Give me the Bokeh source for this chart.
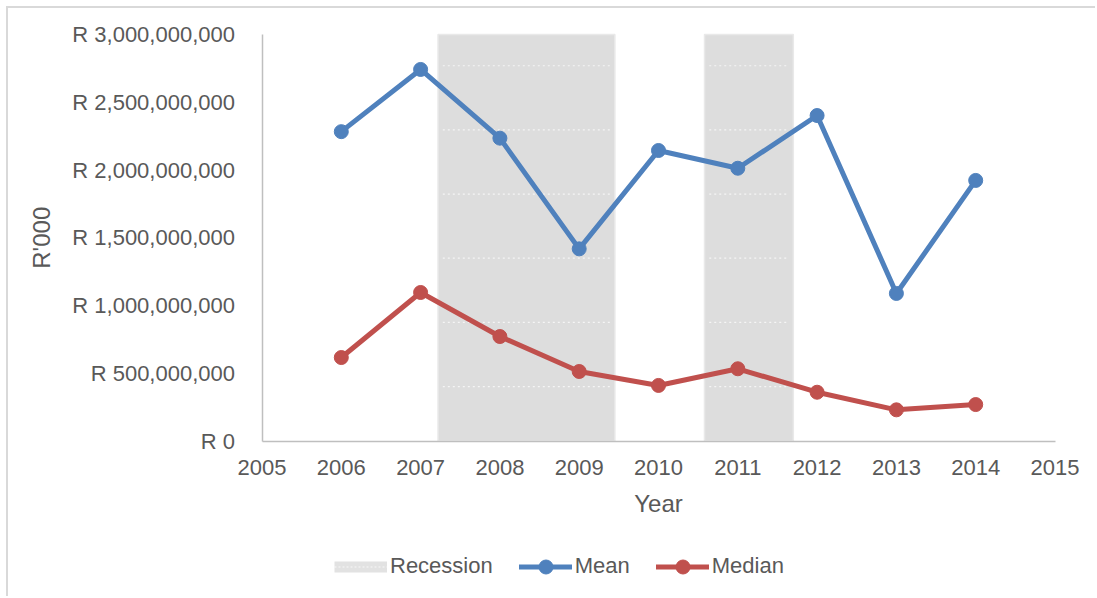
import math
from bokeh.plotting import figure
from bokeh.models import Range1d, Legend, LegendItem, Label
from bokeh.embed import file_html
from bokeh.resources import INLINE

# Yearly values (R'000)
years = [2006, 2007, 2008, 2009, 2010, 2011, 2012, 2013, 2014]
mean_vals = [2.283e9, 2.742e9, 2.235e9, 1.418e9, 2.144e9, 2.013e9, 2.402e9, 1.089e9, 1.923e9]
median_vals = [0.616e9, 1.096e9, 0.771e9, 0.513e9, 0.410e9, 0.533e9, 0.360e9, 0.230e9, 0.269e9]

# Recession periods (fractional years)
recession_start = [2007.22, 2010.58]
recession_end = [2009.45, 2011.70]

# Axis ticks
x_ticks = list(range(2005, 2016))
y_ticks = [0, 500_000_000, 1_000_000_000, 1_500_000_000, 2_000_000_000, 2_500_000_000, 3_000_000_000]
y_tick_labels = ["R 0", "R 500,000,000", "R 1,000,000,000", "R 1,500,000,000",
                 "R 2,000,000,000", "R 2,500,000,000", "R 3,000,000,000"]
X_MIN, X_MAX = x_ticks[0], x_ticks[-1]
Y_MAX = y_ticks[-1]

FONT = "Liberation Sans"
TEXT = "#595959"
BLUE = "#4f81bd"
RED = "#c0504d"
BAND = "#dddddd"
AXIS = "#bfbfbf"

# The frame fills the whole canvas; the axes sit inside it at fixed positions,
# leaving room for tick labels on the left and the titles/legend underneath.
CANVAS_W, CANVAS_H = 1089, 590
TOP_PAD = 26          # canvas top -> top of value axis
LEFT_PAD = 253.5      # canvas left -> value axis line
VALUE_W, VALUE_H = 793, 406.5
RIGHT_PAD = CANVAS_W - LEFT_PAD - VALUE_W
BOTTOM_PAD = CANVAS_H - TOP_PAD - VALUE_H

x_per_px = (X_MAX - X_MIN) / VALUE_W
y_per_px = Y_MAX / VALUE_H
x_range = Range1d(X_MIN - LEFT_PAD * x_per_px, X_MAX + RIGHT_PAD * x_per_px)
y_range = Range1d(-BOTTOM_PAD * y_per_px, Y_MAX + TOP_PAD * y_per_px)

p = figure(width=CANVAS_W, height=CANVAS_H, x_range=x_range, y_range=y_range,
           output_backend="svg", toolbar_location=None,
           min_border_left=0, min_border_right=0, min_border_top=0, min_border_bottom=0)
p.margin = (6, 0, 0, 6)
p.styles = {"border-top": "2px solid #d9d9d9", "border-left": "2px solid #d9d9d9"}
p.outline_line_color = None
p.xgrid.visible = False
p.ygrid.visible = False
p.background_fill_color = "white"
p.border_fill_color = "white"

# Recession shading
p.quad(left=recession_start, right=recession_end, bottom=0, top=Y_MAX,
       fill_color=BAND, line_color="#e9e9e9", line_width=1.5)

# Dotted texture inside the shaded bands
tex_step = 0.4735e9
tex_rows = [0.402e9 + i * tex_step for i in range(6)]
inset = 0.06
tx0, tx1, ty = [], [], []
for s, e in zip(recession_start, recession_end):
    for r in tex_rows:
        tx0.append(s + inset)
        tx1.append(e - inset)
        ty.append(r)
p.segment(x0=tx0, y0=ty, x1=tx1, y1=ty, line_color="white", line_alpha=0.7,
          line_width=1.2, line_dash="2 3")

# Series
mean_line = p.line(years, mean_vals, line_color=BLUE, line_width=5, line_join="round", line_cap="round")
mean_pts = p.scatter(years, mean_vals, size=14, fill_color=BLUE, line_color=BLUE)
med_line = p.line(years, median_vals, line_color=RED, line_width=5, line_join="round", line_cap="round")
med_pts = p.scatter(years, median_vals, size=14, fill_color=RED, line_color=RED)

# Legend swatch for the shaded periods (one-point lines draw nothing on the plot)
rec_key = p.line(x=recession_start[:1], y=[0], line_color="#e2e2e2", line_width=11, line_cap="butt")
rec_key_tex = p.line(x=recession_start[:1], y=[0], line_color="white", line_alpha=0.8,
                     line_width=1, line_dash="2 2")

# Axes
for ax in (p.xaxis[0], p.yaxis[0]):
    ax.axis_line_color = AXIS
    ax.axis_line_width = 1.5
    ax.major_tick_line_color = None
    ax.minor_tick_line_color = None
    ax.major_label_text_font = FONT
    ax.major_label_text_font_size = "22px"
    ax.major_label_text_color = TEXT

p.xaxis.ticker = x_ticks
p.xaxis.fixed_location = 0
p.xaxis.bounds = (X_MIN, X_MAX)
p.xaxis.major_label_standoff = 13

p.yaxis.ticker = y_ticks
p.yaxis.fixed_location = X_MIN
p.yaxis.bounds = (0, Y_MAX)
p.yaxis.major_label_overrides = dict(zip(y_ticks, y_tick_labels))
p.yaxis.major_label_standoff = 21

# Axis titles
p.add_layout(Label(x=(X_MIN + X_MAX) / 2, y=0, y_offset=-62.5, text="Year",
                   text_align="center", text_baseline="middle",
                   text_font=FONT, text_font_size="24px", text_color=TEXT))
p.add_layout(Label(x=X_MIN, y=Y_MAX / 2, x_offset=-220.5, text="R'000", angle=math.pi / 2,
                   text_align="center", text_baseline="middle",
                   text_font=FONT, text_font_size="24px", text_color=TEXT))

legend = Legend(items=[
    LegendItem(label="Recession", renderers=[rec_key, rec_key_tex]),
    LegendItem(label="Mean", renderers=[mean_line, mean_pts]),
    LegendItem(label="Median", renderers=[med_line, med_pts]),
], orientation="horizontal", location=(326, 14.5))
legend.glyph_width = 53
legend.glyph_height = 35
legend.label_standoff = 3
legend.spacing = 26
legend.padding = 0
legend.margin = 0
legend.label_text_font = FONT
legend.label_text_font_size = "22px"
legend.label_text_color = TEXT
legend.background_fill_alpha = 0
legend.border_line_alpha = 0
p.add_layout(legend, "center")

open("out.html", "w").write(file_html(p, INLINE))
